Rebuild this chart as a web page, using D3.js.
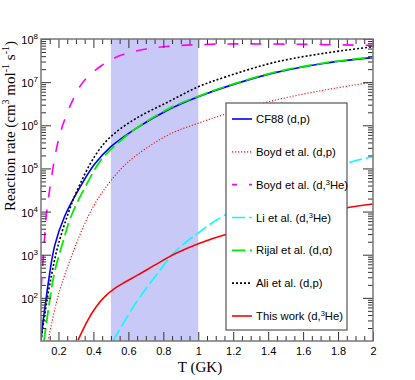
<!DOCTYPE html>
<html lang="en">
<head>
<meta charset="utf-8">
<script src="https://d3js.org/d3.v7.min.js"></script>
<style>
  body { margin: 0; background: #fff; }
  svg text { font-family: "Liberation Sans", Arial, sans-serif; }
</style>
</head>
<body>
<script>
// ---- data ----
const tCF88  = [0.1, 0.11, 0.13, 0.14, 0.178, 0.236, 0.32, 0.407, 0.5, 0.645, 0.829, 1.0, 1.18, 1.44, 1.725, 2.0];
const rCF88  = [1.0e1, 2.5e1, 1.0e2, 2.0e2, 1.6e3, 7.9e3, 3.5e4, 1.26e5, 3.2e5, 8.5e5, 2.3e6, 4.6e6, 8.3e6, 1.66e7, 2.75e7, 3.7e7];

const tBoydDp = [0.14, 0.197, 0.273, 0.369, 0.445, 0.56, 0.645, 0.829, 1.0, 1.153, 1.4, 1.725, 2.0];
const rBoydDp = [1.0e1, 1.07e2, 8.9e2, 7.6e3, 2.6e4, 1.0e5, 2.0e5, 6.0e5, 1.12e6, 1.8e6, 3.5e6, 6.6e6, 1.0e7];

const tBoydHe = [0.1, 0.102, 0.111, 0.121, 0.13, 0.153, 0.188, 0.224, 0.277, 0.34, 0.445, 0.564, 0.695, 0.83, 1.1, 1.5, 2.0];
const rBoydHe = [1.6e2, 2.0e2, 6.8e2, 2.6e3, 7.9e3, 4.0e4, 2.8e5, 1.0e6, 3.5e6, 1.0e7, 2.4e7, 4.3e7, 5.8e7, 6.8e7, 7.6e7, 7.6e7, 7.1e7];

const tLi = [0.512, 0.638, 0.753, 0.867, 1.0, 1.153, 1.85, 2.0];
const rLi = [1.0e1, 7.1e1, 3.1e2, 1.17e3, 3.2e3, 8.3e3, 1.32e5, 1.86e5];

const tRijal = [0.117, 0.15, 0.178, 0.226, 0.273, 0.36, 0.445, 0.55, 0.645, 0.829, 1.0, 1.18, 1.44, 1.725, 2.0];
const rRijal = [1.0e1, 8.9e1, 4.0e2, 2.0e3, 7.9e3, 4.2e4, 1.6e5, 4.2e5, 8.5e5, 2.4e6, 4.7e6, 8.5e6, 1.7e7, 2.8e7, 3.8e7];

const tAli = [0.1, 0.121, 0.159, 0.197, 0.255, 0.302, 0.407, 0.5, 0.645, 0.829, 1.0, 1.17, 1.44, 1.725, 2.0];
const rAli = [1.0e1, 4.0e1, 3.2e2, 1.6e3, 8.9e3, 2.8e4, 1.9e5, 5.5e5, 1.45e6, 3.5e6, 7.8e6, 1.38e7, 2.9e7, 4.7e7, 6.6e7];

const tThis = [0.312, 0.369, 0.417, 0.465, 0.522, 0.579, 0.655, 0.753, 0.867, 1.0, 1.153, 1.85, 2.0];
const rThis = [1.05e1, 3.1e1, 6.3e1, 1.07e2, 1.66e2, 2.3e2, 3.4e2, 5.8e2, 1.05e3, 1.8e3, 2.9e3, 1.23e4, 1.5e4];

const xTicks = [0.2, 0.4, 0.6, 0.8, 1, 1.2, 1.4, 1.6, 1.8, 2];
const yDecades = [1e2, 1e3, 1e4, 1e5, 1e6, 1e7, 1e8];
const band = [0.5, 1.0];

// legend label pieces: [text, superscript, text]
const legendLabels = [
  ["CF88 (d,p)"],
  ["Boyd et al. (d,p)"],
  ["Boyd et al. (d,", "3", "He)"],
  ["Li et al. (d,", "3", "He)"],
  ["Rijal et al. (d,\u03b1)"],
  ["Ali et al. (d,p)"],
  ["This work (d,", "3", "He)"]
];

const series = [
  {t: tCF88,   r: rCF88,   color: "#0000ff", dash: null,      w: 1.6, off: 0},
  {t: tBoydDp, r: rBoydDp, color: "#ff0000", dash: "1.2,1.8", w: 1.1, off: 0},
  {t: tBoydHe, r: rBoydHe, color: "#ff00ff", dash: "11,12",   w: 1.6, off: 6},
  {t: tLi,     r: rLi,     color: "#00ffff", dash: "13,4",    w: 1.6, off: 0},
  {t: tRijal,  r: rRijal,  color: "#00ee00", dash: "13,5",    w: 1.8, off: 0},
  {t: tAli,    r: rAli,    color: "#000000", dash: "2,2",     w: 1.6, off: 0},
  {t: tThis,   r: rThis,   color: "#ff0000", dash: null,      w: 1.6, off: 0}
];

// ---- layout ----
const W = 415, H = 380;
const L = 41, R = 373, T = 39, B = 341;

const svg = d3.select("body").append("svg")
  .attr("width", W).attr("height", H);

const x = d3.scaleLinear().domain([0.1, 2]).range([L, R]);
const y = d3.scaleLog().domain([10, 1e8]).range([B, T]);

svg.append("defs").append("clipPath").attr("id", "plotclip")
  .append("rect").attr("x", L).attr("y", T).attr("width", R - L).attr("height", B - T);

// shaded band
svg.append("rect")
  .attr("x", x(band[0])).attr("y", T)
  .attr("width", x(band[1]) - x(band[0])).attr("height", B - T)
  .attr("fill", "#c9c9f7");

// curves
const line = d3.line()
  .x(d => x(d[0])).y(d => y(d[1]))
  .curve(d3.curveCatmullRom.alpha(0.5));

const curves = svg.append("g").attr("clip-path", "url(#plotclip)");
series.forEach(s => {
  curves.append("path")
    .datum(s.t.map((v, i) => [v, s.r[i]]))
    .attr("d", line)
    .attr("fill", "none")
    .attr("stroke", s.color)
    .attr("stroke-width", s.w)
    .attr("stroke-dasharray", s.dash);
});

// ---- axes (ROOT style, ticks inside on all 4 sides) ----
const xMinor = d3.range(0.1, 2.0001, 0.05).filter(v => !xTicks.some(t => Math.abs(t - v) < 1e-6));
const yMinor = [];
[10, 100, 1e3, 1e4, 1e5, 1e6, 1e7].forEach(d => { for (let m = 2; m <= 9; m++) yMinor.push(d * m); });

function styleAxis(g) {
  g.select(".domain").remove();
  g.selectAll("line").attr("stroke", "#333");
}

svg.append("g").attr("transform", `translate(0,${B})`)
  .call(d3.axisBottom(x).tickValues(xTicks).tickSize(-9).tickPadding(6).tickFormat(d3.format("~g")))
  .call(styleAxis)
  .call(g => g.selectAll("text").attr("font-size", 11).attr("fill", "#000"));
svg.append("g").attr("transform", `translate(0,${B})`)
  .call(d3.axisBottom(x).tickValues(xMinor).tickSize(-5).tickFormat(""))
  .call(styleAxis);
svg.append("g").attr("transform", `translate(0,${T})`)
  .call(d3.axisTop(x).tickValues(xTicks).tickSize(-9).tickFormat(""))
  .call(styleAxis);
svg.append("g").attr("transform", `translate(0,${T})`)
  .call(d3.axisTop(x).tickValues(xMinor).tickSize(-5).tickFormat(""))
  .call(styleAxis);

svg.append("g").attr("transform", `translate(${L},0)`)
  .call(d3.axisLeft(y).tickValues(yDecades).tickSize(-10).tickFormat(""))
  .call(styleAxis);
svg.append("g").attr("transform", `translate(${L},0)`)
  .call(d3.axisLeft(y).tickValues(yMinor).tickSize(-5).tickFormat(""))
  .call(styleAxis);
svg.append("g").attr("transform", `translate(${R},0)`)
  .call(d3.axisRight(y).tickValues(yDecades).tickSize(-10).tickFormat(""))
  .call(styleAxis);
svg.append("g").attr("transform", `translate(${R},0)`)
  .call(d3.axisRight(y).tickValues(yMinor).tickSize(-5).tickFormat(""))
  .call(styleAxis);

// y tick labels 10^n
yDecades.forEach(v => {
  const t = svg.append("text")
    .attr("x", L - 3).attr("y", y(v) + 5)
    .attr("text-anchor", "end").attr("font-size", 11);
  t.append("tspan").text("10");
  t.append("tspan").attr("dy", -5).attr("font-size", 8).text(Math.round(Math.log10(v)));
});

// frame
svg.append("rect")
  .attr("x", L).attr("y", T).attr("width", R - L).attr("height", B - T)
  .attr("fill", "none").attr("stroke", "#777").attr("stroke-width", 1.5);

// axis titles
svg.append("text")
  .attr("x", (L + R) / 2 - 7).attr("y", 372)
  .attr("text-anchor", "middle")
  .style("font-family", "'Liberation Serif', 'Times New Roman', serif")
  .attr("font-size", 15)
  .text("T (GK)");

// y title is aligned to the top end of the axis
const yt = svg.append("text")
  .attr("transform", `translate(15,${T + 2}) rotate(-90)`)
  .attr("text-anchor", "end")
  .style("font-family", "'Liberation Serif', 'Times New Roman', serif")
  .attr("font-size", 15);
yt.append("tspan").text("Reaction rate (cm");
yt.append("tspan").attr("dy", -6).attr("font-size", 10).text("3");
yt.append("tspan").attr("dy", 6).text(" mol");
yt.append("tspan").attr("dy", -6).attr("font-size", 10).text("-1");
yt.append("tspan").attr("dy", 6).text(" s");
yt.append("tspan").attr("dy", -6).attr("font-size", 10).text("-1");
yt.append("tspan").attr("dy", 6).text(")");

// ---- legend ----
const lg = svg.append("g");
lg.append("rect")
  .attr("x", 226).attr("y", 103).attr("width", 121).attr("height", 227)
  .attr("fill", "#fff").attr("stroke", "#555").attr("stroke-width", 1.2);

const rowY = d3.scaleLinear().domain([0, legendLabels.length - 1]).range([119, 316]);
legendLabels.forEach((parts, i) => {
  const s = series[i];
  const yy = rowY(i);
  lg.append("line")
    .attr("x1", 232).attr("x2", 252).attr("y1", yy).attr("y2", yy)
    .attr("stroke", s.color).attr("stroke-width", s.w)
    .attr("stroke-dasharray", s.dash)
    .attr("stroke-dashoffset", s.off);
  const t = lg.append("text").attr("x", 256).attr("y", yy + 4).attr("font-size", 11.3);
  t.append("tspan").text(parts[0]);
  if (parts.length > 1) {
    t.append("tspan").attr("dy", -4).attr("font-size", 7.5).text(parts[1]);
    t.append("tspan").attr("dy", 4).text(parts[2]);
  }
});
</script>
</body>
</html>
